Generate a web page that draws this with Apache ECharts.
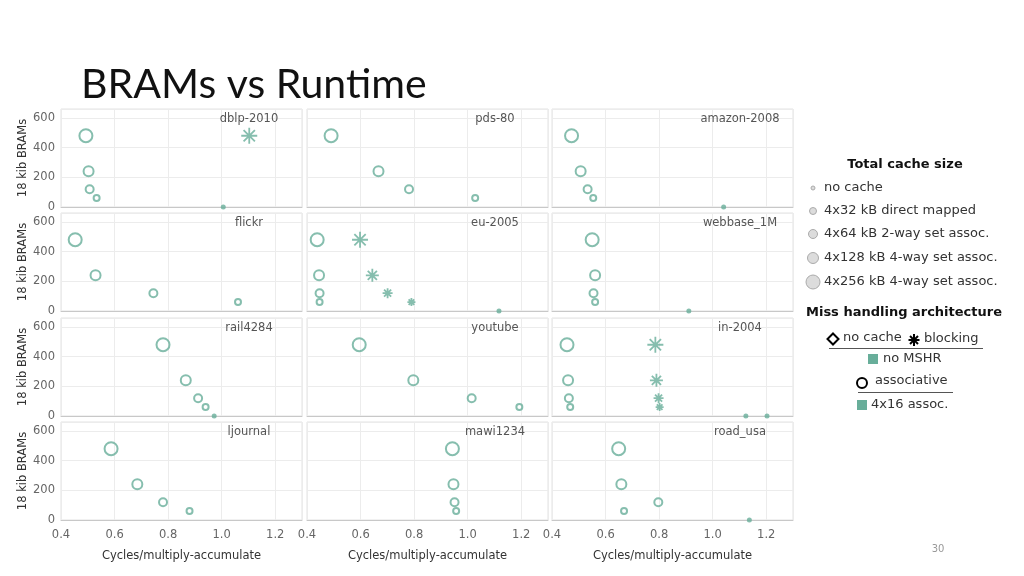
<!DOCTYPE html>
<html>
<head>
<meta charset="utf-8">
<script src="https://cdn.jsdelivr.net/npm/echarts@6/dist/echarts.min.js"></script>
<style>
  html, body { margin: 0; padding: 0; background: #fff; }
  #chart { width: 1024px; height: 576px; }
</style>
</head>
<body>
<div id="chart"></div>
<script>
// panels (facets), row by row
const panels = ['dblp-2010', 'pds-80', 'amazon-2008',
                'flickr', 'eu-2005', 'webbase_1M',
                'rail4284', 'youtube', 'in-2004',
                'ljournal', 'mawi1234', 'road_usa'];

// BRAMs used by each cache config: 4x32, 4x64, 4x128, 4x256
const brams = [60, 120, 240, 480];
const noCacheBrams = 0;

// cycles/MAC, associative MSHR, one value per cache size
const assocX = [
  [0.533, 0.507, 0.503, 0.493],
  [1.028, 0.781, 0.667, 0.490],
  [0.554, 0.533, 0.507, 0.473],
  [1.061, 0.745, 0.529, 0.453],
  [0.447, 0.447, 0.445, 0.438],
  [0.561, 0.555, 0.561, 0.550],
  [0.940, 0.912, 0.866, 0.781],
  [1.193, 1.015, 0.797, 0.595],
  [0.468, 0.463, 0.460, 0.456],
  [0.880, 0.781, 0.685, 0.587],
  [0.957, 0.951, 0.947, 0.943],
  [0.669, 0.797, 0.659, 0.649]
];

// cycles/MAC, blocking (no MSHR); null = off the chart
const blockingX = [
  [null, null, null, 1.103],
  [null, null, null, null],
  [null, null, null, null],
  [null, null, null, null],
  [0.790, 0.701, 0.644, 0.598],
  [null, null, null, null],
  [null, null, null, null],
  [null, null, null, null],
  [0.802, 0.798, 0.790, 0.786],
  [null, null, null, null],
  [null, null, null, null],
  [null, null, null, null]
];

// cycles/MAC without cache
const noCacheX = [
  [1.006], [], [1.041],
  [], [1.117], [0.911],
  [0.972], [], [1.124, 1.203],
  [], [], [1.137]
];

const xTicks = [0.4, 0.6, 0.8, 1.0, 1.2];
const yTicks = [0, 200, 400, 600];

const legendSizes = ['no cache', '4x32 kB direct mapped', '4x64 kB 2-way set assoc.',
                     '4x128 kB 4-way set assoc.', '4x256 kB 4-way set assoc.'];

// 样式
const teal = '#68ae9a';
const circleSize = [6, 8, 10, 13];
const starSize = [8, 10, 13, 16];
const starPath = 'path://M10,0L10,20M0,10L20,10M2.93,2.93L17.07,17.07M2.93,17.07L17.07,2.93';
const colLeft = [61, 307, 552];
const rowTop = [109, 213, 318, 422];
const gw = 241, gh = 98;
const font = 'DejaVu Sans';

const chart = echarts.init(document.getElementById('chart'));

const grid = [], xAxis = [], yAxis = [], series = [], graphic = [];

panels.forEach((name, i) => {
  const r = Math.floor(i / 3), c = i % 3;
  grid.push({ left: colLeft[c], top: rowTop[r], width: gw, height: gh,
    show: true, borderColor: '#e3e3e3', borderWidth: 1 });
  xAxis.push({
    gridIndex: i, type: 'value', min: xTicks[0], max: 1.3, interval: 0.2,
    name: r === 3 ? 'Cycles/multiply-accumulate' : '',
    nameLocation: 'middle', nameGap: 30,
    nameTextStyle: { color: '#333', fontSize: 11.5, fontFamily: font },
    axisLine: { show: true, lineStyle: { color: '#c8c8c8' } },
    axisTick: { show: false },
    axisLabel: { show: r === 3, showMaxLabel: false, color: '#666', fontSize: 11.5,
      fontFamily: font, margin: 9, formatter: v => v.toFixed(1) },
    splitLine: { lineStyle: { color: '#ececec' } }
  });
  yAxis.push({
    gridIndex: i, type: 'value', min: yTicks[0], max: 660, interval: 200,
    name: c === 0 ? '18 kib BRAMs' : '',
    nameLocation: 'middle', nameGap: 32,
    nameTextStyle: { color: '#333', fontSize: 11.5, fontFamily: font },
    axisLine: { show: false }, axisTick: { show: false },
    axisLabel: { show: c === 0, showMaxLabel: false, color: '#666', fontSize: 11.5,
      fontFamily: font, margin: 6 },
    splitLine: { lineStyle: { color: '#ececec' } }
  });

  // associative MSHR -> open circles
  series.push({
    type: 'scatter', xAxisIndex: i, yAxisIndex: i, symbol: 'circle',
    data: assocX[i].map((x, k) => [x, brams[k]]),
    symbolSize: (v, p) => circleSize[p.dataIndex],
    itemStyle: { color: 'rgba(255,255,255,0)', borderColor: teal, borderWidth: 2 },
    silent: true
  });
  // blocking -> asterisks
  series.push({
    type: 'scatter', xAxisIndex: i, yAxisIndex: i, symbol: starPath, symbolKeepAspect: true,
    data: blockingX[i].map((x, k) => x == null ? null : [x, brams[k], k]).filter(d => d),
    symbolSize: v => starSize[v[2]],
    itemStyle: { color: 'rgba(255,255,255,0)', borderColor: teal, borderWidth: 1.8 },
    silent: true
  });
  // no cache -> small dots
  series.push({
    type: 'scatter', xAxisIndex: i, yAxisIndex: i, symbol: 'circle', symbolSize: 5,
    data: noCacheX[i].map(x => [x, noCacheBrams]),
    itemStyle: { color: teal },
    silent: true
  });

  // facet label
  graphic.push({ type: 'text', z: 100, x: colLeft[c] + gw * 0.78, y: rowTop[r] + 10,
    style: { text: name, fill: '#555', font: '11.5px "' + font + '"',
      textAlign: 'center', textVerticalAlign: 'middle' } });
});

// title & page number
graphic.push({ type: 'text', z: 100, x: 81, y: 64,
  style: { text: 'BRAMs vs Runtime', fill: '#111', font: '41px Lato',
    textVerticalAlign: 'top' } });
graphic.push({ type: 'text', z: 100, x: 938, y: 549,
  style: { text: '30', fill: '#999', font: '10px "' + font + '"',
    textAlign: 'center', textVerticalAlign: 'middle' } });

// legend: total cache size
graphic.push({ type: 'text', z: 100, x: 905, y: 165,
  style: { text: 'Total cache size', fill: '#111', font: 'bold 13px "' + font + '"',
    textAlign: 'center', textVerticalAlign: 'middle' } });
const legY = [188, 211, 234, 258, 282];
const legR = [2, 3.5, 4.5, 5.5, 7];
legendSizes.forEach((t, k) => {
  graphic.push({ type: 'circle', z: 100, shape: { cx: 813, cy: legY[k], r: legR[k] },
    style: { fill: '#dcdcdc', stroke: '#aaa', lineWidth: 1 } });
  graphic.push({ type: 'text', z: 100, x: 824, y: legY[k],
    style: { text: t, fill: '#333', font: '13px "' + font + '"', textVerticalAlign: 'middle' } });
});

// legend: miss handling architecture
graphic.push({ type: 'text', z: 100, x: 904, y: 313,
  style: { text: 'Miss handling architecture', fill: '#111', font: 'bold 13px "' + font + '"',
    textAlign: 'center', textVerticalAlign: 'middle' } });
const lt = (x, y, t) => graphic.push({ type: 'text', z: 100, x, y,
  style: { text: t, fill: '#333', font: '13px "' + font + '"', textVerticalAlign: 'middle' } });
const ln = (x1, y1, x2, y2, color, w) => graphic.push({ type: 'line', z: 100,
  shape: { x1, y1, x2, y2 }, style: { stroke: color, lineWidth: w } });
graphic.push({ type: 'polygon', z: 100, shape: { points: [[833, 333.5], [838.5, 339], [833, 344.5], [827.5, 339]] },
  style: { fill: '#fff', stroke: '#000', lineWidth: 2 } });
lt(843, 338, 'no cache');
ln(914, 334, 914, 346, '#000', 2);
ln(908.5, 340, 919.5, 340, '#000', 2);
ln(910, 336, 918, 344, '#000', 2);
ln(910, 344, 918, 336, '#000', 2);
lt(924, 339, 'blocking');
ln(829, 348.5, 983, 348.5, '#555', 1);
graphic.push({ type: 'rect', z: 100, shape: { x: 868, y: 354, width: 10, height: 10 }, style: { fill: teal } });
lt(883, 359, 'no MSHR');
graphic.push({ type: 'circle', z: 100, shape: { cx: 862, cy: 383, r: 5 },
  style: { fill: '#fff', stroke: '#000', lineWidth: 2 } });
lt(875, 381, 'associative');
ln(858, 392.5, 953, 392.5, '#555', 1);
graphic.push({ type: 'rect', z: 100, shape: { x: 857, y: 400, width: 10, height: 10 }, style: { fill: teal } });
lt(871, 405, '4x16 assoc.');

chart.setOption({
  animation: false,
  textStyle: { fontFamily: font },
  grid, xAxis, yAxis, series, graphic
});
</script>
</body>
</html>
